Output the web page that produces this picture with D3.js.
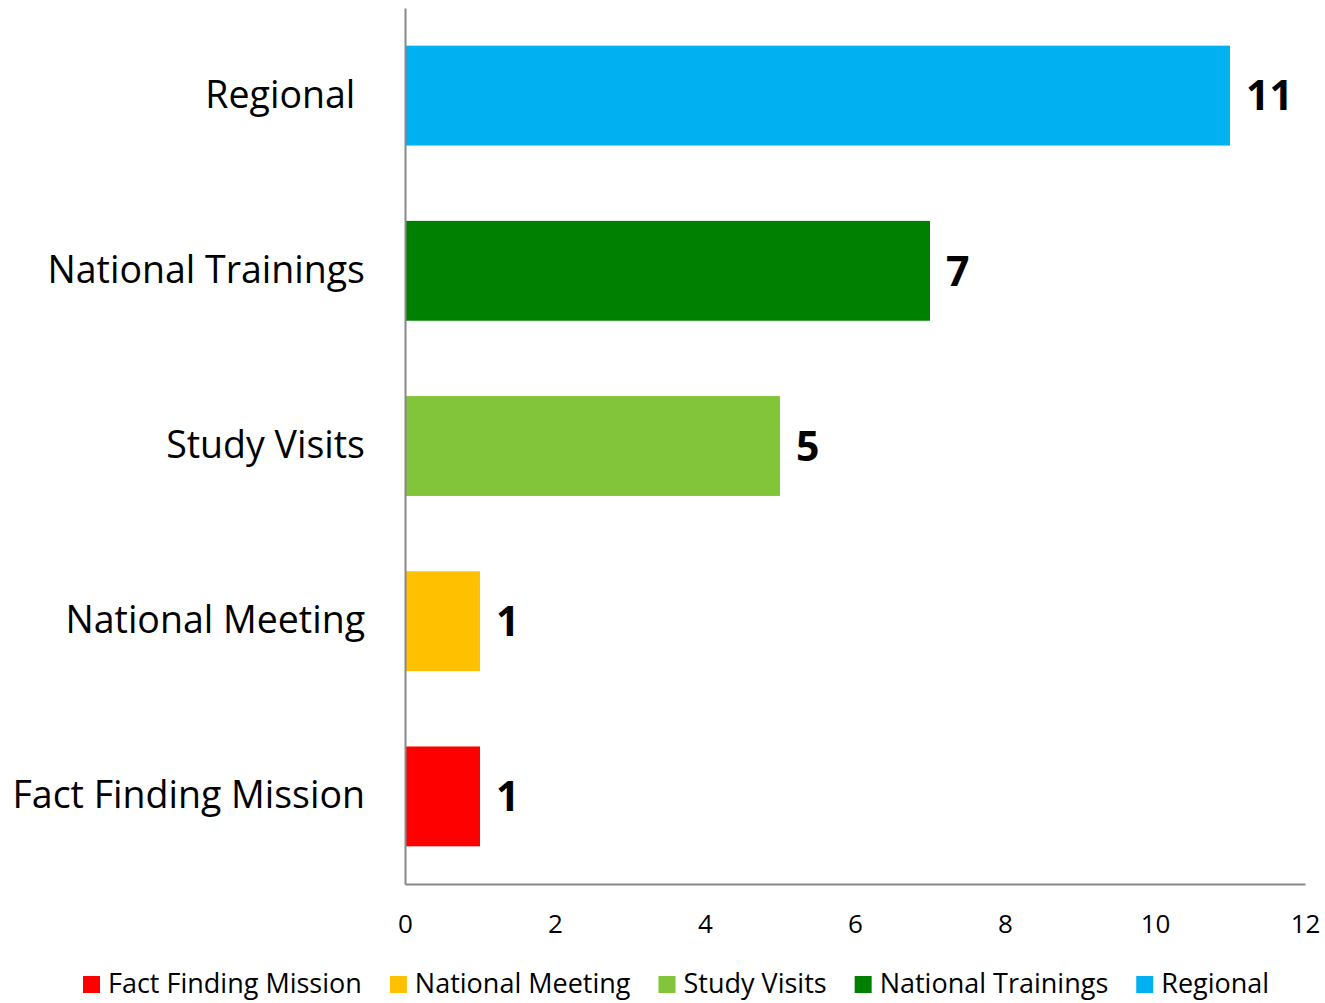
<!DOCTYPE html>
<html>
<head>
<meta charset="utf-8">
<script src="https://cdn.jsdelivr.net/npm/d3@7"></script>
<style>
  body { margin: 0; background: #fff; }
  #chart { width: 1325px; height: 1003px; }
  text { font-family: "Open Sans", "Noto Sans", sans-serif; fill: #000; }
</style>
</head>
<body>
<div id="chart"></div>
<script>
// Data
const categories = ["Regional ", "National Trainings", "Study Visits", "National Meeting", "Fact Finding Mission"];
const values = [11, 7, 5, 1, 1];
const colors = ["#00B0F0", "#008000", "#82C43A", "#FFC000", "#FF0000"];
const xTicks = [0, 2, 4, 6, 8, 10, 12];
const legendOrder = ["Fact Finding Mission", "National Meeting", "Study Visits", "National Trainings", "Regional"];
const legendColors = ["#FF0000", "#FFC000", "#82C43A", "#008000", "#00B0F0"];

const width = 1325, height = 1003;
const margin = { top: 8, right: 20, bottom: 119, left: 405 };
const innerW = width - margin.left - margin.right;
const innerH = height - margin.top - margin.bottom;

const svg = d3.select("#chart")
    .append("svg")
    .attr("width", width)
    .attr("height", height);

const g = svg.append("g")
    .attr("transform", `translate(${margin.left},${margin.top})`);

// Scales
const xScale = d3.scaleLinear().domain([0, 12]).range([0, innerW]);
const yScale = d3.scaleBand().domain(categories).range([0, innerH]).paddingInner(0.43).paddingOuter(0.215);

// Bars
g.selectAll("rect.bar")
    .data(values)
    .enter()
    .append("rect")
    .attr("class", "bar")
    .attr("x", xScale(0))
    .attr("y", (d, i) => yScale(categories[i]))
    .attr("width", d => xScale(d) - xScale(0))
    .attr("height", yScale.bandwidth())
    .attr("fill", (d, i) => colors[i]);

// Value labels
g.selectAll("text.val")
    .data(values)
    .enter()
    .append("text")
    .attr("class", "val")
    .attr("x", d => xScale(d) + 16)
    .attr("y", (d, i) => yScale(categories[i]) + yScale.bandwidth() / 2)
    .attr("dy", "0.36em")
    .style("font-size", "41px")
    .style("font-weight", "bold")
    .text(d => d);

// X axis
const xAxis = g.append("g")
    .attr("transform", `translate(0,${innerH})`)
    .call(d3.axisBottom(xScale).tickValues(xTicks).tickSize(0).tickPadding(31));
xAxis.select(".domain").attr("stroke", "#888").attr("stroke-width", 2);
xAxis.selectAll("text").style("font-size", "26px").style("font-family", "\"Open Sans\", sans-serif");

// Y axis
const yAxis = g.append("g")
    .call(d3.axisLeft(yScale).tickSize(0).tickPadding(40));
yAxis.select(".domain").attr("stroke", "#888").attr("stroke-width", 2);
yAxis.selectAll("text").style("font-size", "37.5px").style("font-family", "\"Open Sans\", sans-serif").style("white-space", "pre");

// Legend
const legend = svg.append("g").attr("transform", "translate(0,984)");
let lx = 83;
legendOrder.forEach((name, i) => {
    const item = legend.append("g").attr("transform", `translate(${lx},0)`);
    item.append("rect").attr("x", 0).attr("y", -8).attr("width", 17).attr("height", 17).attr("fill", legendColors[i]);
    const t = item.append("text").attr("x", 25).attr("dy", "0.35em").style("font-size", "27px").text(name);
    lx += 25 + t.node().getComputedTextLength() + 28;
});
</script>
</body>
</html>
